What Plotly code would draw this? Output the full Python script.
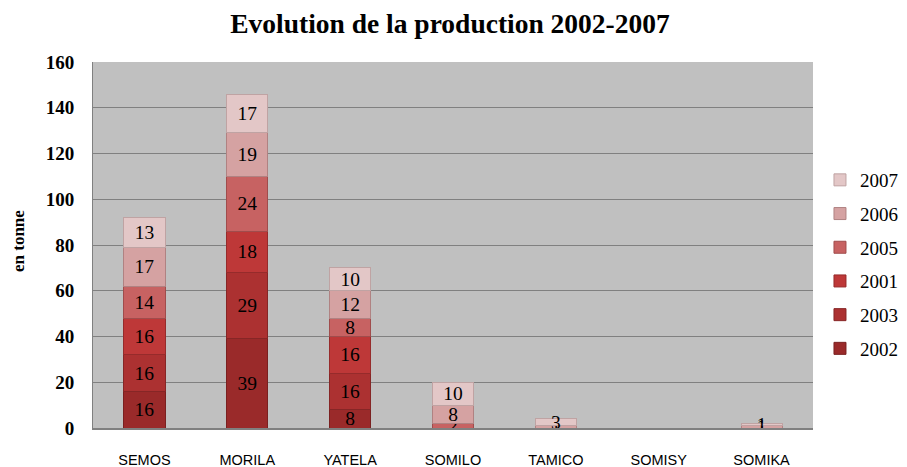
import plotly.graph_objects as go

categories = ["SEMOS", "MORILA", "YATELA", "SOMILO", "TAMICO", "SOMISY", "SOMIKA"]
years = ["2002", "2003", "2001", "2005", "2006", "2007"]
v2002 = [16, 39, 8, 0, 0, 0, 0]
v2003 = [16, 29, 16, 0, 0, 0, 0]
v2004 = [16, 18, 16, 0, 0, 0, 0]
v2005 = [14, 24, 8, 2, 0, 0, 0]
v2006 = [17, 19, 12, 8, 1, 0, 1]
v2007 = [13, 17, 10, 10, 3, 0, 1]
series = [v2002, v2003, v2004, v2005, v2006, v2007]
colors = ["#9A2A2A", "#AC3131", "#BE3838", "#C76262", "#D5A2A2", "#E3C7C7"]
line_colors = ["#7A2020", "#862626", "#962B2B", "#A04C4C", "#B08282", "#BFA3A3"]

fig = go.Figure()
for i, (name, vals, c, lc) in enumerate(zip(years, series, colors, line_colors)):
    fig.add_trace(go.Bar(
        x=categories, y=vals, name=name, legendgroup=name,
        legendrank=100 - i,
        marker=dict(color=c, line=dict(color=lc, width=1)),
        text=[str(v) if v > 0 else "" for v in vals],
        textposition="inside", insidetextanchor="middle", textangle=0,
        textfont=dict(family="Liberation Serif", size=19.5, color="black"),
        width=0.4,
    ))

# The page offsets the figure by 8px; sizes compensate for that
fig.update_layout(
    barmode="stack",
    width=899, height=459,
    margin=dict(l=85, r=94, t=54, b=39, autoexpand=False),
    paper_bgcolor="white",
    plot_bgcolor="#C0C0C0",
    title=dict(text="<b>Evolution de la production 2002-2007</b>", x=(450 - 8) / 899, xanchor="center",
               y=1 - 15 / 459, yanchor="middle",
               font=dict(family="Liberation Serif", size=27.5, color="black")),
    uniformtext=dict(minsize=17, mode="show"),
    legend=dict(x=1.0097, y=(428 - 264.5) / 366, xanchor="left", yanchor="middle",
                traceorder="grouped", tracegroupgap=6,
                font=dict(family="Liberation Serif", size=19, color="black"),
                bgcolor="rgba(0,0,0,0)", itemwidth=30),
    bargap=0.6,
    showlegend=True,
)
fig.update_xaxes(
    showline=True, linecolor="#808080", linewidth=2,
    tickfont=dict(family="Liberation Sans", size=14.5, color="black"),
    ticks="", showgrid=False, ticklabelstandoff=18, automargin=False,
)
fig.update_yaxes(
    range=[0, 160], dtick=20, showgrid=True, gridcolor="#808080", gridwidth=1,
    showline=True, linecolor="#808080", linewidth=1,
    tickfont=dict(family="Liberation Serif", size=19, color="black"),
    tickprefix="<b>", ticksuffix="</b>", ticklabelstandoff=14,
    zeroline=False, automargin=False,
)
fig.add_annotation(
    text="<b>en tonne</b>", textangle=-90, xref="paper", yref="paper",
    x=(18 - 93) / 720, y=(428 - 241) / 366, xanchor="center", yanchor="middle", showarrow=False,
    font=dict(family="Liberation Serif", size=17, color="black"),
)

fig.write_html("out.html")
